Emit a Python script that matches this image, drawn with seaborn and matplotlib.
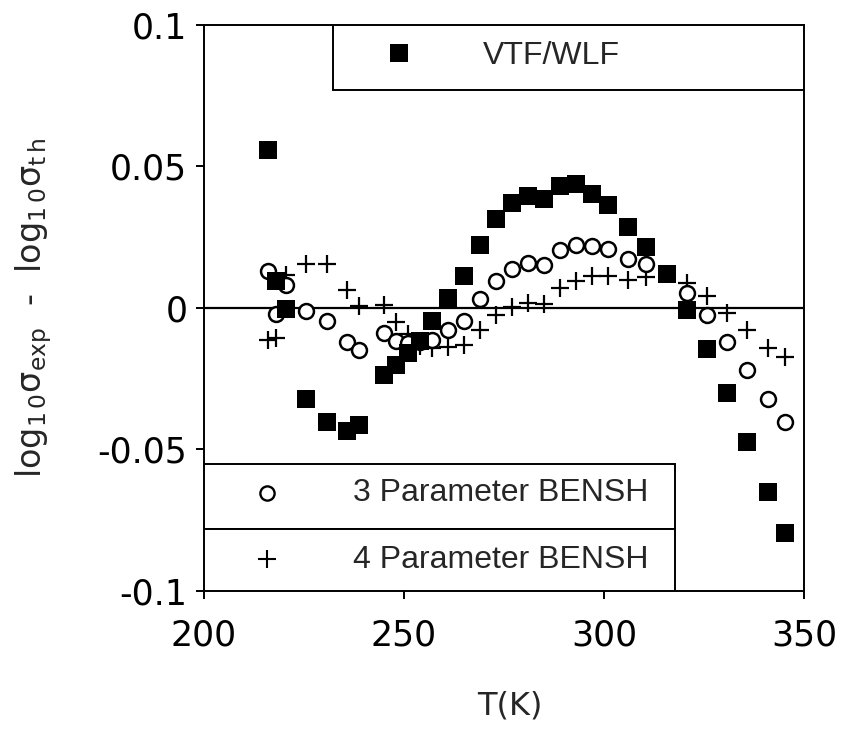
import numpy as np
import pandas as pd
import matplotlib
matplotlib.use("Agg")
import matplotlib.pyplot as plt
import seaborn as sns
from matplotlib.patches import Rectangle

# temperatures (K) shared by the three fits
temp = [216, 218, 220.5, 225.5, 230.75, 235.75, 238.75, 245, 248, 251, 254, 257,
        261, 265, 269, 273, 277, 281, 285, 289, 293, 297, 301, 306, 310.5,
        315.75, 320.75, 325.75, 330.75, 335.75, 341, 345.25]

vtf_wlf = [0.0558, 0.0095, -0.0002, -0.0323, -0.0403, -0.0433, -0.0413, -0.0237,
           -0.0202, -0.016, -0.0117, -0.0046, 0.0036, 0.0114, 0.0224, 0.0313,
           0.037, 0.0395, 0.0384, 0.0432, 0.0438, 0.0402, 0.0363, 0.0285, 0.0214,
           0.0119, -0.0006, -0.0146, -0.0302, -0.0473, -0.0651, -0.0794]

bensh3 = [0.0131, -0.002, 0.0083, -0.001, -0.0045, -0.0119, -0.0148, -0.0087,
          -0.0116, -0.0123, -0.012, -0.0113, -0.0077, -0.0047, 0.0032, 0.0095,
          0.0139, 0.0158, 0.0151, 0.0206, 0.0223, 0.022, 0.0208, 0.0172, 0.0154,
          np.nan, 0.0053, -0.0024, -0.0119, -0.022, -0.032, -0.0403]

bensh4 = [-0.0113, -0.0107, 0.0117, 0.0154, 0.0154, 0.0065, 0.0007, 0.0011,
          -0.005, -0.0093, -0.0135, -0.0142, -0.0137, -0.0132, -0.0078, -0.0023,
          0.0004, 0.0018, 0.0014, 0.0071, 0.0096, 0.0113, 0.0113, 0.0098, 0.011,
          np.nan, 0.0089, 0.0043, -0.0018, -0.0077, -0.0142, -0.0174]

xticks = [200, 250, 300, 350]
yticks = [-0.1, -0.05, 0, 0.05, 0.1]
ytick_labels = ["-0.1", "-0.05", "0", "0.05", "0.1"]

df = pd.DataFrame({"T": temp, "vtf": vtf_wlf, "b3": bensh3, "b4": bensh4})

sns.set_style("ticks")
plt.rcParams["font.family"] = ["DejaVu Sans"]
plt.rcParams["axes.unicode_minus"] = False
plt.rcParams["mathtext.fontset"] = "dejavusans"

fig = plt.figure(figsize=(8.45, 7.37), dpi=100)
ax = fig.add_axes([0.2414, 0.1981, 0.7101, 0.768])

ax.axhline(0, color="black", lw=1.6, zorder=1)

sns.scatterplot(data=df, x="T", y="b4", marker="+", s=170, color="black",
                linewidth=1.6, ax=ax, zorder=2)
sns.scatterplot(data=df, x="T", y="b3", marker="o", s=115, facecolor="white",
                edgecolor="black", linewidth=1.8, ax=ax, zorder=3)
sns.scatterplot(data=df, x="T", y="vtf", marker="s", s=155, color="black",
                linewidth=0, ax=ax, zorder=4)

ax.set_xlim(200, 350)
ax.set_ylim(-0.1, 0.1)
ax.set_xticks(xticks)
ax.set_xticklabels([str(v) for v in xticks])
ax.set_yticks(yticks)
ax.set_yticklabels(ytick_labels)
ax.tick_params(direction="out", length=6, width=1.4, labelsize=25,
               colors="black")
ax.tick_params(axis="x", pad=14)
ax.tick_params(axis="y", pad=6)
for sp in ax.spines.values():
    sp.set_linewidth(1.4)
    sp.set_color("black")

ax.set_xlabel("T(K)", fontsize=23)
ax.set_ylabel(r"$\mathrm{log_{1\,0}\sigma_{exp}}$  -  $\mathrm{log_{1\,0}\sigma_{t\,h}}$",
              fontsize=24)
ax.xaxis.set_label_coords(0.51, -0.175)
ax.yaxis.set_label_coords(-0.25, 0.5)

# legend boxes
tr = ax.transAxes
ax.add_patch(Rectangle((0.215, 0.885), 0.785, 0.115, transform=tr, fill=True,
                       facecolor="white", edgecolor="black", lw=1.4, zorder=5))
ax.add_patch(Rectangle((0, 0.1095), 0.785, 0.115, transform=tr, fill=True,
                       facecolor="white", edgecolor="black", lw=1.4, zorder=5))
ax.add_patch(Rectangle((0, 0), 0.785, 0.1095, transform=tr, fill=True,
                       facecolor="white", edgecolor="black", lw=1.4, zorder=5))

ax.scatter([0.3245], [0.951], marker="s", s=150, color="black", lw=0,
           transform=tr, zorder=6)
ax.scatter([0.1045], [0.1726], marker="o", s=105, facecolor="white",
           edgecolor="black", lw=1.7, transform=tr, zorder=6)
ax.scatter([0.1045], [0.057], marker="+", s=160, color="black", lw=1.5,
           transform=tr, zorder=6)

leg_font = ["Liberation Sans", "DejaVu Sans"]
ax.text(0.465, 0.946, "VTF/WLF", transform=tr, fontsize=23, family=leg_font,
        va="center", ha="left", zorder=7)
ax.text(0.248, 0.1726, "3 Parameter BENSH", transform=tr, fontsize=23,
        family=leg_font, va="center", ha="left", zorder=7)
ax.text(0.248, 0.055, "4 Parameter BENSH", transform=tr, fontsize=23,
        family=leg_font, va="center", ha="left", zorder=7)

fig.savefig("out.png", dpi=100)
